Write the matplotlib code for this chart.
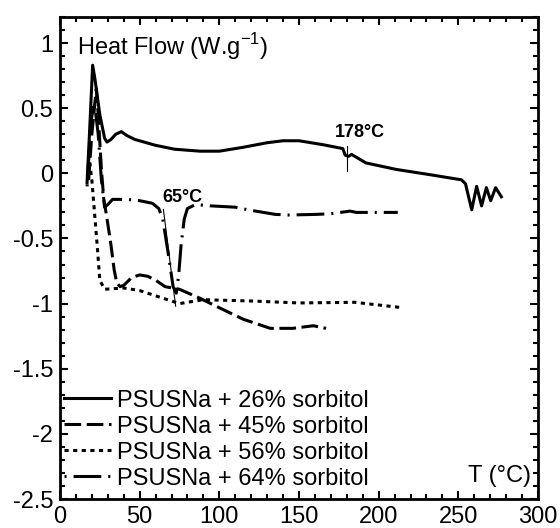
import matplotlib
matplotlib.use("Agg")
import matplotlib.pyplot as plt
from matplotlib.ticker import MultipleLocator

plt.rcParams['font.family'] = ['Liberation Sans', 'DejaVu Sans']
plt.rcParams['axes.unicode_minus'] = False
plt.rcParams['lines.scale_dashes'] = False

# PSUSNa + 26% sorbitol (solid)
x26 = [17, 18.5, 20.5, 22, 25, 28, 29.5, 32, 35, 38.5, 42, 47, 60, 72, 88, 100, 115, 130, 140,
       150, 165, 177.5, 179, 181, 183, 192, 211, 232, 252, 254.5, 258.4, 261.5, 264.6, 267.6,
       270.3, 273.4, 277]
y26 = [-0.07, 0.3, 0.83, 0.72, 0.45, 0.27, 0.24, 0.26, 0.3, 0.32, 0.29, 0.26, 0.215, 0.185,
       0.17, 0.17, 0.2, 0.235, 0.25, 0.25, 0.22, 0.19, 0.14, 0.13, 0.145, 0.08, 0.03, -0.01,
       -0.05, -0.08, -0.28, -0.1, -0.25, -0.11, -0.21, -0.11, -0.18]

# PSUSNa + 45% sorbitol (dashed)
x45 = [18, 20, 22.8, 24, 26, 27.5, 29.3, 32, 34, 35.6, 37.7, 40, 45, 50, 55, 60, 66, 75, 88,
       98, 115, 132, 146, 159, 167]
y45 = [-0.05, 0.3, 0.65, 0.45, 0.03, -0.2, -0.33, -0.55, -0.74, -0.84, -0.87, -0.86, -0.8,
       -0.78, -0.79, -0.82, -0.87, -0.89, -0.96, -1.02, -1.12, -1.19, -1.19, -1.17, -1.19]

# PSUSNa + 56% sorbitol (dotted)
x56 = [18, 20, 22, 23.4, 25, 28, 40, 50, 60, 70, 75, 80, 90, 120, 150, 185, 214]
y56 = [0.15, -0.05, -0.35, -0.56, -0.82, -0.89, -0.88, -0.9, -0.94, -0.98, -1.0, -0.99,
       -0.97, -0.98, -0.995, -0.99, -1.03]

# PSUSNa + 64% sorbitol (dot + long dash)
x64 = [17, 19.5, 21.5, 24, 26, 28, 30, 33, 42, 50, 58, 62, 64.5, 68, 71, 73, 74.5, 76, 78,
       80, 85, 95, 110, 118, 135, 144, 161, 170, 182, 186, 200, 212]
y64 = [-0.1, 0.4, 0.55, 0.3, -0.05, -0.26, -0.24, -0.2, -0.2, -0.21, -0.23, -0.27, -0.35,
       -0.62, -0.87, -0.92, -0.78, -0.55, -0.35, -0.27, -0.24, -0.25, -0.26, -0.28, -0.315,
       -0.32, -0.315, -0.31, -0.29, -0.3, -0.3, -0.3]

labels = ['PSUSNa + 26% sorbitol', 'PSUSNa + 45% sorbitol',
          'PSUSNa + 56% sorbitol', 'PSUSNa + 64% sorbitol']

fig = plt.figure(figsize=(5.6, 5.28), dpi=100)
ax = fig.add_axes([0.1071, 0.0549, 0.8536, 0.9129])

lw = 2.2
ax.plot(x26, y26, color='black', lw=lw, label=labels[0])
ax.plot(x45, y45, color='black', lw=lw, linestyle=(0, (12, 4)), label=labels[1])
ax.plot(x56, y56, color='black', lw=lw, linestyle=(0, (3, 3.2)), label=labels[2])
ax.plot(x64, y64, color='black', lw=lw, linestyle=(25, (20, 5, 1.5, 5)), label=labels[3])

# annotation tangent lines
ax.plot([180, 180], [0.21, 0.02], color='black', lw=0.8)
ax.plot([64.9, 72.6], [-0.277, -1.02], color='black', lw=0.8)
ax.text(188.5, 0.315, '178°C', fontsize=13, fontweight='bold', ha='center', va='center')
ax.text(76.7, -0.185, '65°C', fontsize=13, fontweight='bold', ha='center', va='center')

ax.text(0.035, 0.938, 'Heat Flow (W.g$^{\\mathregular{-1}}$)', transform=ax.transAxes,
        fontsize=17, ha='left', va='center')
ax.text(0.985, 0.048, 'T (°C)', transform=ax.transAxes, fontsize=17, ha='right', va='center')

ax.set_xlim(0, 300)
ax.set_ylim(-2.5, 1.2)
ax.xaxis.set_major_locator(MultipleLocator(50))
ax.xaxis.set_minor_locator(MultipleLocator(10))
ax.yaxis.set_minor_locator(MultipleLocator(0.1))
ax.set_yticks([1, 0.5, 0, -0.5, -1, -1.5, -2, -2.5])
ax.set_yticklabels(['1', '0.5', '0', '-0.5', '-1', '-1.5', '-2', '-2.5'])
ax.tick_params(which='both', direction='in', top=True, right=True, labelsize=17, width=1.5)
ax.tick_params(which='major', length=6, pad=5)
ax.tick_params(which='minor', length=3.5)
for s in ax.spines.values():
    s.set_linewidth(2)

leg = ax.legend(loc='lower left', bbox_to_anchor=(-0.012, 0.0), frameon=False, fontsize=17,
                handlelength=2.0, handletextpad=0.25, labelspacing=0.17, borderaxespad=0.2,
                borderpad=0.2)

fig.savefig('out.png', dpi=100)
